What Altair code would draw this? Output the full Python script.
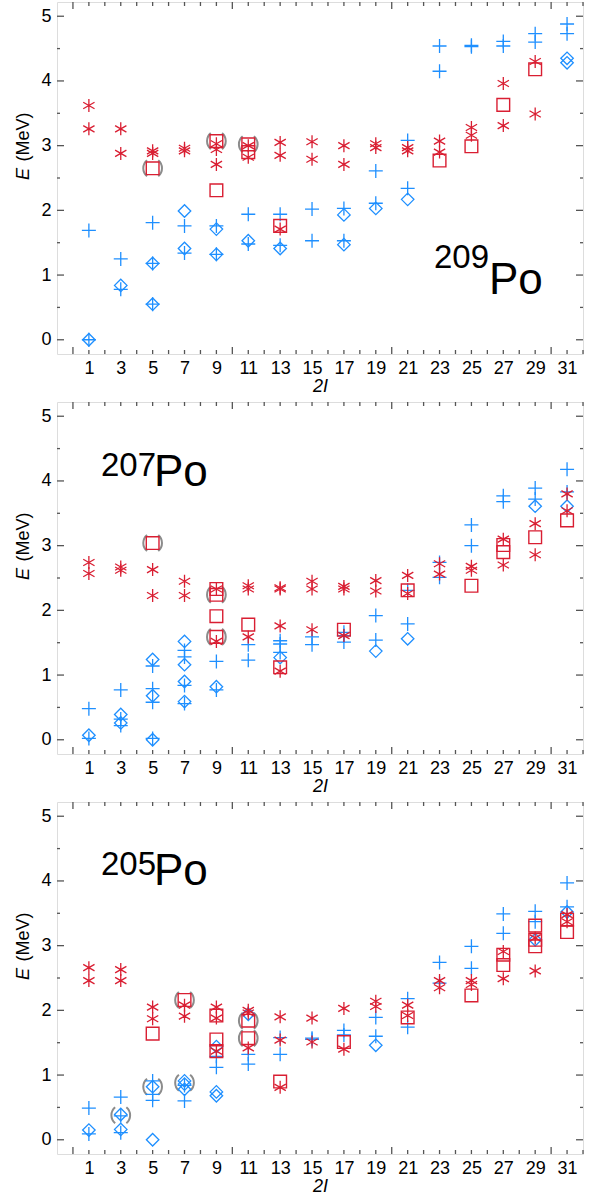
import altair as alt
import pandas as pd

# ---------------- data (2I, E in MeV) ----------------
X_LABELS = list(range(1, 32, 2))
Y_LABELS = [0, 1, 2, 3, 4, 5]
X_MINOR = [v for v in range(0, 33) if v % 10 != 0]
X_MAJOR = [0, 10, 20, 30]
Y_MINOR = [0.5, 1.5, 2.5, 3.5, 4.5]
Y_MAJOR = [0, 1, 2, 3, 4, 5]

po209_plus = [(1,1.69),(1,0.0),(3,1.25),(3,0.78),(5,1.81),(5,1.18),(5,0.55),(7,1.76),(7,1.34),
              (9,1.76),(9,1.32),(11,1.94),(11,1.48),(13,1.94),(13,1.46),(15,2.02),(15,1.53),
              (17,2.03),(17,1.53),(19,2.61),(19,2.11),(21,3.08),(21,2.34),(23,4.54),(23,4.15),
              (25,4.55),(25,4.53),(27,4.61),(27,4.54),(29,4.73),(29,4.60),(31,4.88),(31,4.73)]
po209_diamond = [(1,0.0),(3,0.84),(5,1.18),(5,0.55),(7,1.99),(7,1.41),(9,1.71),(9,1.32),(11,1.53),
                 (13,1.41),(17,1.93),(17,1.47),(19,2.03),(21,2.17),(31,4.35),(31,4.28)]
po209_star = [(1,3.62),(1,3.26),(3,3.26),(3,2.88),(5,2.92),(5,2.88),(7,2.96),(7,2.92),(9,3.03),
              (9,2.94),(9,2.71),(11,3.00),(11,2.82),(13,3.05),(13,2.85),(13,1.71),(15,3.06),(15,2.79),
              (17,3.00),(17,2.71),(19,3.03),(19,2.97),(21,2.97),(21,2.92),(23,3.07),(23,2.90),
              (25,3.28),(25,3.16),(27,3.96),(27,3.31),(29,4.30),(29,3.49)]
po209_square = [(5,2.65),(9,3.07),(9,2.31),(11,3.02),(11,2.90),(13,1.76),(23,2.77),(25,2.99),
                (27,3.63),(29,4.18)]
po209_paren = [(5,2.65),(9,3.07),(11,3.02)]

po207_plus = [(1,0.48),(1,0.02),(3,0.77),(3,0.32),(3,0.22),(5,1.14),(5,0.79),(5,0.58),(5,0.02),
              (7,1.38),(7,1.28),(7,0.84),(7,0.56),(9,1.21),(9,0.77),(11,1.47),(11,1.23),(13,1.53),
              (13,1.48),(13,1.35),(15,1.59),(15,1.47),(17,1.66),(17,1.61),(17,1.51),(19,1.92),
              (19,1.54),(21,2.31),(21,1.79),(23,2.74),(23,2.51),(25,3.32),(25,3.00),(27,3.77),
              (27,3.68),(29,3.89),(29,3.72),(31,4.18),(31,3.83)]
po207_diamond = [(1,0.07),(3,0.39),(3,0.26),(5,1.24),(5,0.68),(5,0.0),(7,1.52),(7,1.16),(7,0.90),
                 (7,0.59),(9,0.82),(13,1.27),(19,1.37),(21,1.56),(29,3.61),(31,3.61)]
po207_star = [(1,2.74),(1,2.57),(3,2.67),(3,2.62),(5,2.63),(5,2.23),(7,2.45),(7,2.23),(9,2.33),
              (9,1.52),(11,2.38),(11,2.33),(11,1.59),(13,2.35),(13,2.33),(13,1.76),(13,1.06),
              (15,2.45),(15,2.33),(15,1.70),(17,2.37),(17,2.33),(17,1.61),(19,2.46),(19,2.30),
              (21,2.54),(21,2.26),(23,2.72),(23,2.56),(25,2.68),(25,2.62),(27,3.10),(27,2.70),
              (29,3.34),(29,2.86),(31,3.80),(31,3.54)]
po207_square = [(5,3.04),(9,2.33),(9,2.24),(9,1.91),(9,1.59),(11,1.78),(13,1.12),(17,1.70),
                (21,2.31),(25,2.38),(27,3.01),(27,2.90),(29,3.13),(31,3.39)]
po207_paren = [(5,3.04),(9,2.24),(9,1.59)]

po205_plus = [(1,0.49),(1,0.09),(3,0.66),(3,0.37),(3,0.11),(5,0.91),(5,0.70),(5,0.61),(7,0.84),
              (7,0.60),(9,1.29),(9,1.12),(11,1.32),(11,1.17),(13,1.58),(13,1.32),(15,1.57),(15,1.55),
              (17,1.69),(17,1.62),(19,1.89),(19,1.60),(21,2.18),(21,1.74),(23,2.74),(23,2.42),
              (25,2.99),(25,2.65),(27,3.49),(27,3.19),(29,3.53),(29,3.37),(31,3.97),(31,3.60)]
po205_diamond = [(1,0.15),(3,0.39),(3,0.16),(5,0.82),(5,0.0),(7,0.91),(7,0.86),(7,0.78),(9,1.44),
                 (9,0.74),(9,0.68),(11,1.94),(19,1.46),(29,3.09),(31,3.52)]
po205_star = [(1,2.66),(1,2.46),(3,2.63),(3,2.46),(5,2.05),(5,1.87),(7,2.08),(7,1.91),(9,2.05),
              (9,1.88),(9,1.37),(11,2.00),(11,1.96),(11,1.42),(13,1.90),(13,1.54),(13,0.81),
              (15,1.88),(15,1.51),(17,2.03),(17,1.40),(19,2.14),(19,2.06),(21,2.08),(21,1.92),
              (23,2.46),(23,2.35),(25,2.46),(25,2.40),(27,2.91),(27,2.49),(29,3.12),(29,2.61),
              (31,3.48),(31,3.37)]
po205_square = [(5,1.64),(7,2.16),(9,1.92),(9,1.55),(9,1.37),(11,1.84),(11,1.57),(13,0.90),
                (17,1.51),(21,1.89),(25,2.23),(27,2.86),(27,2.70),(29,3.31),(29,3.09),(29,2.99),
                (31,3.40),(31,3.21)]
po205_paren = [(3,0.38),(5,0.82),(7,2.16),(7,0.88),(11,1.84),(11,1.57)]

# ---------------- style ----------------
W, H = 526, 352
BLUE = "#1E8FFF"
RED = "#D91E32"
GRAY = "#8C8C8C"
FRAME = "#3A3A3A"
FONT = "Liberation Sans"
PLUS = "M-1,0L1,0M0,-1L0,1"
STAR = "M0,-1L0,1M-0.87,-0.5L0.87,0.5M-0.87,0.5L0.87,-0.5"
PAREN = "M-0.7,-1A1.3,1.3,0,0,0,-0.7,1M0.7,-1A1.3,1.3,0,0,1,0.7,1"

xs = alt.Scale(domain=[-1, 32], nice=False, zero=False)
ys = alt.Scale(domain=[-0.22, 5.22], nice=False, zero=False)
xaxis = alt.Axis(values=X_LABELS, title="2I", ticks=False, domain=False, grid=False,
                 labelFontSize=18, labelFont=FONT, labelColor="black", labelPadding=5,
                 titleFont=FONT, titleFontSize=18, titleFontStyle="italic",
                 titleFontWeight="normal", titleColor="black", titlePadding=0,
                 labelFlush=False, labelOverlap=False)
yaxis = alt.Axis(values=Y_LABELS, title=None, ticks=False, domain=False, grid=False,
                 labelFontSize=18, labelFont=FONT, labelColor="black", labelPadding=6,
                 labelFlush=False, labelOverlap=False)


def df_of(pairs):
    return pd.DataFrame(pairs, columns=["x", "E"])


def pts(pairs, shape, color, size, sw):
    return alt.Chart(df_of(pairs)).mark_point(
        shape=shape, filled=False, color=color, size=size, strokeWidth=sw, opacity=1
    ).encode(x=alt.X("x:Q", scale=xs, axis=xaxis), y=alt.Y("E:Q", scale=ys, axis=yaxis))


def ticks():
    layers = []
    for vals, ln in ((X_MINOR, 4), (X_MAJOR, 7)):
        d = pd.DataFrame({"x": vals})
        m = alt.Chart(d).mark_rule(color="#555555", strokeWidth=1.3)
        layers.append(m.encode(x=alt.X("x:Q", scale=xs, axis=xaxis), y=alt.value(H), y2=alt.value(H - ln)))
        layers.append(m.encode(x=alt.X("x:Q", scale=xs, axis=xaxis), y=alt.value(0), y2=alt.value(ln)))
    for vals, ln in ((Y_MINOR, 3), (Y_MAJOR, 7)):
        d = pd.DataFrame({"E": vals})
        m = alt.Chart(d).mark_rule(color="#555555", strokeWidth=1.3)
        layers.append(m.encode(y=alt.Y("E:Q", scale=ys, axis=yaxis), x=alt.value(0), x2=alt.value(ln)))
        layers.append(m.encode(y=alt.Y("E:Q", scale=ys, axis=yaxis), x=alt.value(W), x2=alt.value(W - ln)))
    return layers


def txt(s, x, y, size, style="normal", angle=0, align="left", baseline="alphabetic"):
    kw = dict(font=FONT, fontSize=size, fontStyle=style, color="black", align=align, baseline=baseline)
    if angle:
        kw["angle"] = angle
    return alt.Chart(pd.DataFrame({"t": [s]})).mark_text(**kw).encode(
        text="t:N", x=alt.value(x), y=alt.value(y))


def panel(plus, diamond, star, square, paren, mass, mpos, ppos):
    layers = ticks()
    layers += [
        pts(paren, PAREN, GRAY, 256, 2.0),
        pts(plus, PLUS, BLUE, 196, 1.3),
        pts(diamond, "diamond", BLUE, 156, 1.3),
        pts(star, STAR, RED, 169, 1.3),
        pts(square, "square", RED, 161, 1.4),
        txt("E", -33, 172, 18, style="italic", angle=270, align="center", baseline="middle"),
        txt("(MeV)", -33, 135, 18, angle=270, align="center", baseline="middle"),
        txt(mass, mpos[0], mpos[1], 33),
        txt("Po", ppos[0], ppos[1], 44),
    ]
    return alt.layer(*layers).properties(width=W, height=H)


p1 = panel(po209_plus, po209_diamond, po209_star, po209_square, po209_paren, "209", (377, 266), (432, 292))
p2 = panel(po207_plus, po207_diamond, po207_star, po207_square, po207_paren, "207", (44, 74), (97, 84))
p3 = panel(po205_plus, po205_diamond, po205_star, po205_square, po205_paren, "205", (44, 73), (97, 83))

chart = alt.vconcat(p1, p2, p3, spacing=4).properties(
    padding={"left": 14, "top": 0, "right": 5, "bottom": 5}
).configure_view(stroke=FRAME, strokeWidth=1.4).configure(background="white")

chart.save("out.html", embed_options={"renderer": "svg", "actions": False})
